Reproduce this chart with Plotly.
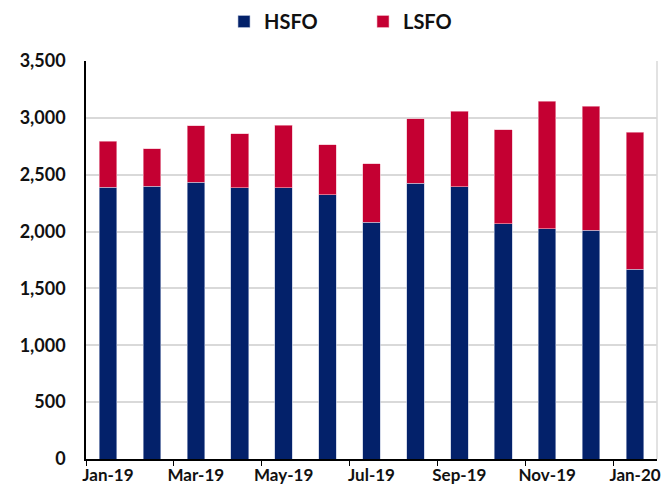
import plotly.graph_objects as go

months = ["Jan-19", "Feb-19", "Mar-19", "Apr-19", "May-19", "Jun-19", "Jul-19",
          "Aug-19", "Sep-19", "Oct-19", "Nov-19", "Dec-19", "Jan-20"]
hsfo = [2390, 2400, 2435, 2385, 2385, 2325, 2080, 2425, 2395, 2070, 2025, 2010, 1670]
lsfo = [405, 330, 495, 475, 550, 440, 515, 565, 665, 825, 1120, 1090, 1205]
y_ticks = [0, 500, 1000, 1500, 2000, 2500, 3000, 3500]

NAVY = "#03216A"
RED = "#C40032"
FONT = "Lato"

W, H = 664, 491
fig = go.Figure()
fig.add_bar(x=months, y=hsfo, name="HSFO", marker=dict(color=NAVY, line=dict(color="#B8C2DA", width=0.6)), width=0.4)
fig.add_bar(x=months, y=lsfo, name="LSFO", marker=dict(color=RED, line=dict(color="#F2B8C6", width=0.6)), width=0.4)

fig.update_layout(
    barmode="stack",
    width=W, height=H,
    margin=dict(l=86, r=7, t=61, b=32, autoexpand=False),
    paper_bgcolor="white", plot_bgcolor="white",
    font=dict(family=FONT, size=16, color="#111111"),
    legend=dict(orientation="h", xref="container", x=224 / W, xanchor="left",
                yref="container", y=1 - 2 / H, yanchor="top",
                font=dict(family=FONT, size=20, color="#111111", weight="bold"),
                itemwidth=30, entrywidth=94, entrywidthmode="pixels", traceorder="normal"),
    showlegend=True,
)
fig.update_xaxes(
    type="category", categoryorder="array", categoryarray=months,
    dtick=2, tickson="boundaries", ticks="outside", ticklen=5, tickcolor="black",
    tickangle=0, automargin=False,
    showline=True, linecolor="black", linewidth=1.5, showgrid=False,
    tickfont=dict(family=FONT, size=17, weight="bold", color="#111111"),
    range=[-0.5, 12.5],
)
fig.update_yaxes(
    range=[0, 3500], tickvals=y_ticks, tickformat=",", automargin=False,
    showgrid=True, gridcolor="#D9D9D9", gridwidth=1.5,
    showline=True, linecolor="black", linewidth=1.5, ticks="",
    tickfont=dict(family=FONT, size=18, weight="bold", color="#111111"),
    ticklabelstandoff=15, zeroline=False,
)
fig.add_shape(type="line", xref="paper", yref="paper", x0=1, x1=1, y0=0, y1=1,
              line=dict(color="#D9D9D9", width=1.5))
fig.write_html(
    "out.html",
    config={"displayModeBar": False},
    post_script="document.body.style.margin='0';document.body.style.overflow='hidden';",
)
